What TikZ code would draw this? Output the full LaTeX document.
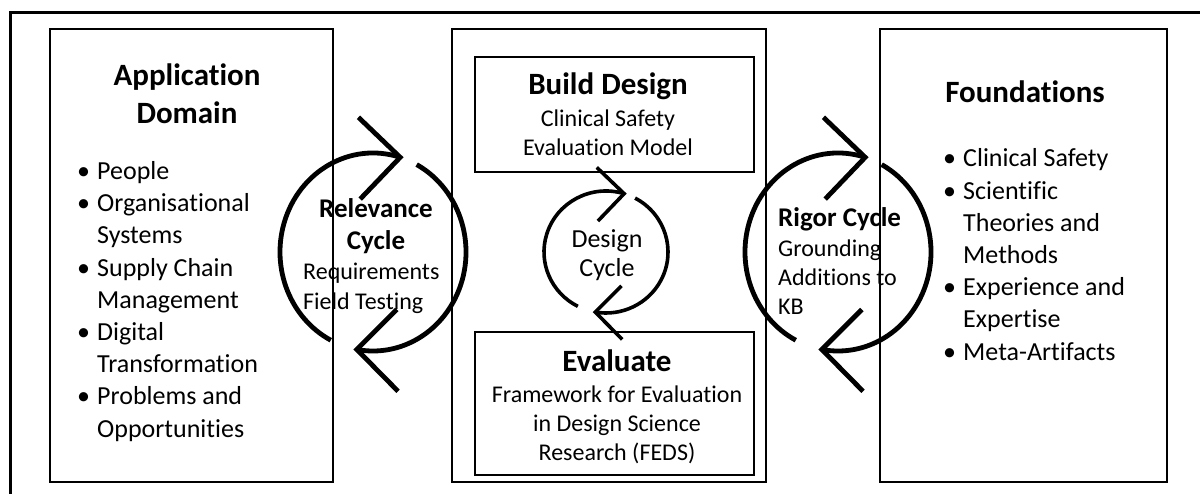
\documentclass[tikz,border=0pt]{standalone}
\usepackage{fontspec}
\setmainfont{Carlito}[Ligatures=NoCommon]
% bullet list helpers
\newcommand\dotitem[1]{\makebox[20pt][l]{\textbullet}#1}
\newcommand\contline[1]{\hspace*{20pt}#1}
% circular cycle arrow: #1 centre, #2 x radius, #3 y radius, #4 arm length, #5 style
\newcommand\cyclearrow[5]{%
  \draw[#5] (#1) ++(-73:#2 and #3) coordinate (#1-a)
    arc[start angle=-73,end angle=-243,x radius=#2,y radius=#3];
  \draw[#5] (#1) ++(-62:#2 and #3)
    arc[start angle=-62,end angle=100,x radius=#2,y radius=#3] coordinate (#1-b);
  \draw[#5] (#1-a) ++(-0.72*#4,-0.69*#4) -- (#1-a) -- ++(-0.69*#4,0.72*#4);
  \draw[#5] (#1-b) ++(0.69*#4,-0.69*#4) -- (#1-b) -- ++(0.71*#4,0.72*#4);
}
\begin{document}
\begin{tikzpicture}[x=1pt,y=-1pt,
  frame/.style={line width=3pt},
  panel/.style={draw,line width=2.6pt,inner sep=0pt,outer sep=0pt},
  bigcyc/.style={line width=4.8pt},
  smallcyc/.style={line width=3.6pt},
  title/.style={font=\fontsize{31}{38}\selectfont\bfseries,align=center,inner sep=0pt,anchor=base},
  items/.style={font=\fontsize{26}{32.2}\selectfont,align=left,inner sep=0pt,anchor=base west},
  sub/.style={font=\fontsize{24}{29}\selectfont,inner sep=0pt},
  cyctitle/.style={font=\fontsize{27}{32}\selectfont\bfseries,inner sep=0pt}]
\useasboundingbox (0,0) rectangle (1200,494);
\fill[white] (0,0) rectangle (1200,494);

% outer frame (runs off the right and bottom edges)
\draw[frame] (10,494) -- (10,13) -- (1200,13);

% panels
\node[panel,minimum width=283pt,minimum height=453pt] (app) at (191.5,255.5) {};
\node[panel,minimum width=314pt,minimum height=453pt] (mid) at (609,255.5) {};
\node[panel,minimum width=279pt,minimum height=115pt] (build) at (614.5,114.5) {};
\node[panel,minimum width=279pt,minimum height=143pt] (eval) at (614.5,403.5) {};
\node[panel,minimum width=287pt,minimum height=453pt] (found) at (1023.5,255.5) {};

% multi-line nodes are placed by the baseline of their last line
% application domain
\node[title] (apptitle) at (187,124) {Application\\Domain};
\node[items] (applist) at (77,437) {\dotitem{People}\\\dotitem{Organisational}\\\contline{Systems}\\
  \dotitem{Supply Chain}\\\contline{Management}\\\dotitem{Digital}\\\contline{Transformation}\\
  \dotitem{Problems and}\\\contline{Opportunities}};

% build / evaluate
\node[title] (buildtitle) at (608,95) {Build Design};
\node[sub,align=center,anchor=base] (buildtext) at (608,156) {Clinical Safety\\Evaluation Model};
\node[title] (evaltitle) at (617,372) {Evaluate};
\node[sub,align=center,anchor=base] (evaltext) at (617,460) {Framework for Evaluation\\in Design Science\\Research (FEDS)};
\node[font=\fontsize{26}{29}\selectfont,align=center,anchor=base,inner sep=0pt] (designtext) at (607,277) {Design\\Cycle};

% relevance cycle text
\node[cyctitle,align=center,anchor=base] (reltitle) at (376,250) {Relevance\\Cycle};
\node[font=\fontsize{24}{30}\selectfont,inner sep=0pt,align=left,anchor=base west] (reltext) at (303,310) {Requirements\\Field Testing};

% rigor cycle text
\node[cyctitle,anchor=base west] (rigtitle) at (778,227) {Rigor Cycle};
\node[sub,align=left,anchor=base west] (rigtext) at (778,315) {Grounding\\Additions to\\KB};

% foundations
\node[title] (foundtitle) at (1025,103) {Foundations};
\node[items] (foundlist) at (943,360) {\dotitem{Clinical Safety}\\\dotitem{Scientific}\\\contline{Theories and}\\
  \contline{Methods}\\\dotitem{Experience and}\\\contline{Expertise}\\\dotitem{Meta-Artifacts}};

% cycles
\coordinate (rc) at (373,252);
\coordinate (dc) at (606,252);
\coordinate (gc) at (838,252);
\cyclearrow{rc}{93}{99}{58}{bigcyc}
\cyclearrow{gc}{93}{99}{58}{bigcyc}
\cyclearrow{dc}{62}{61}{38}{smallcyc}
\end{tikzpicture}
\end{document}
